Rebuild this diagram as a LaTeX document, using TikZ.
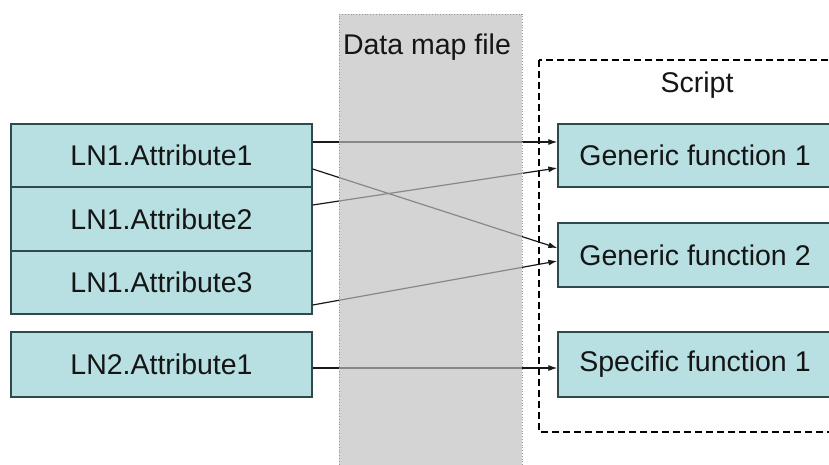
\documentclass[tikz,border=0pt]{standalone}
\usepackage{fontspec}
\setmainfont{Liberation Sans}
\usetikzlibrary{arrows.meta}
\definecolor{boxfill}{HTML}{B8E0E2}
\definecolor{boxline}{HTML}{2E4A4A}
\definecolor{txt}{HTML}{151515}
\tikzset{
  attr/.style={draw=boxline, line width=1.3pt, fill=boxfill, minimum width=301pt, inner sep=0pt,
    font=\fontsize{28.5}{30}\selectfont, text=txt},
  func/.style={draw=boxline, line width=1.3pt, fill=boxfill, minimum width=274pt, minimum height=63pt, inner sep=0pt,
    font=\fontsize{28.5}{30}\selectfont, text=txt},
  conn/.style={line width=1.2pt, draw=black!90, -{Latex[length=9pt,width=6pt]}},
  label/.style={font=\fontsize{28.5}{30}\selectfont, text=txt, inner sep=0pt}
}
\begin{document}
\begin{tikzpicture}[x=1pt,y=-1pt]
\useasboundingbox (0,0) rectangle (829,464);
\fill[white] (0,0) rectangle (829,464);
% left boxes
\node[attr, minimum height=63pt] (a1) at (161.5,155.5) {LN1.Attribute1};
\node[attr, minimum height=64pt] (a2) at (161.5,219) {LN1.Attribute2};
\node[attr, minimum height=63pt] (a3) at (161.5,282.5) {LN1.Attribute3};
\node[attr, minimum height=65pt] (b1) at (161.5,364.5) {LN2.Attribute1};
% dashed script box
\draw[line width=1.2pt, dash pattern=on 7pt off 4pt] (539,60) rectangle (845,432);
\node[label] (script) at (697,85) {Script};
% right boxes
\node[func] (g1) at (695,155.5) {Generic function 1};
\node[func, minimum height=64pt] (g2) at (695,255) {Generic function 2};
\node[func, minimum height=65pt] (s1) at (695,364.5) {Specific function 1};
% connectors
\draw[conn] ([yshift=13.5pt]a1.east) -- ([yshift=13.5pt]g1.west);
\draw[conn] ([yshift=-13.5pt]a1.east) -- ([yshift=7pt]g2.west);
\draw[conn] ([yshift=14pt]a2.east) -- ([yshift=-12.5pt]g1.west);
\draw[conn] ([yshift=-22.5pt]a3.east) -- ([yshift=-6pt]g2.west);
\draw[conn] ([yshift=-3.5pt]b1.east) -- ([yshift=-3.5pt]s1.west);
% data map band
\fill[black!25, fill opacity=0.67] (339,14) rectangle (522,470);
\draw[black!40, line width=0.8pt, dotted] (339,470) -- (339,14) -- (522,14) -- (522,470);
\node[label] (dmf) at (427,47) {Data map file};
\end{tikzpicture}
\end{document}
